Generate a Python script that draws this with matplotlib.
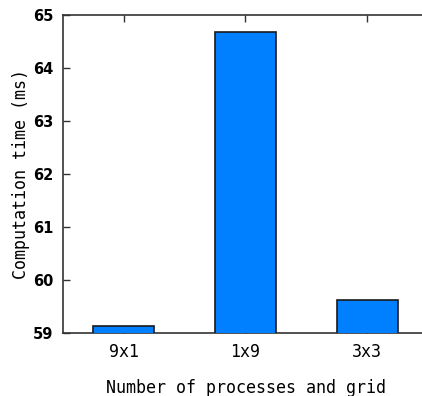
import matplotlib
matplotlib.use('Agg')
import matplotlib.pyplot as plt

# data
grids = ['9x1', '1x9', '3x3']
times_ms = [59.14, 64.67, 59.63]

fig = plt.figure(figsize=(4.22, 3.96), dpi=100)
# gnuplot-like frame, right edge runs slightly past the image
ax = fig.add_axes([63 / 422, 63 / 396, 365 / 422, 318 / 396])

ax.bar(range(len(grids)), times_ms, width=0.5, bottom=0,
       color='#0080ff', edgecolor='#1a1a1a', linewidth=1.2, zorder=3)

ax.set_xlim(-0.5, 2.5)
ax.set_ylim(59, 65)
ax.set_yticks(range(59, 66))
ax.set_xticks(range(len(grids)))
ax.set_xticklabels(grids, family='DejaVu Sans Mono', fontsize=12)
for lbl in ax.get_yticklabels():
    lbl.set_family('DejaVu Sans')
    lbl.set_fontsize(10.5)
    lbl.set_weight('bold')

ax.tick_params(axis='y', direction='in', length=5, width=1, color='#333333',
               pad=7, left=True, right=False)
ax.tick_params(axis='x', direction='in', length=5, width=1, color='#333333',
               pad=7, top=True, bottom=True)

for s in ax.spines.values():
    s.set_color('#333333')
    s.set_linewidth(1.2)

ax.set_xlabel('Number of processes and grid', family='DejaVu Sans Mono',
              fontsize=12, labelpad=13)
ax.set_ylabel('Computation time (ms)', family='DejaVu Sans Mono',
              fontsize=12, labelpad=2)

fig.savefig('out.png', dpi=100)
